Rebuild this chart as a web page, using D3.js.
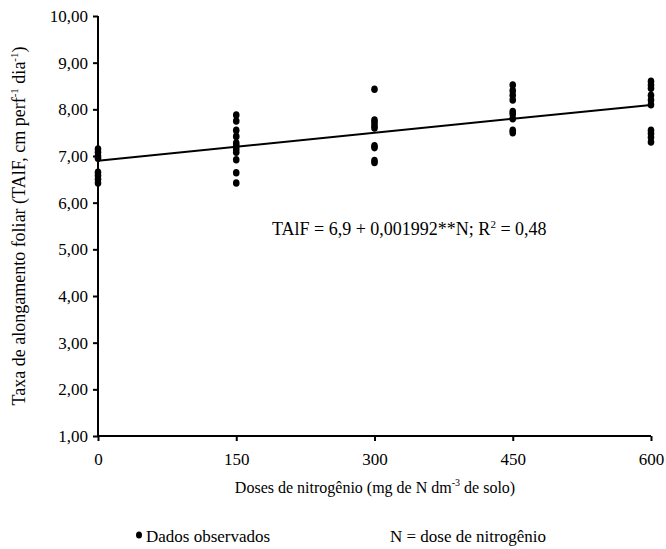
<!DOCTYPE html>
<html>
<head>
<meta charset="utf-8">
<script src="https://cdn.jsdelivr.net/npm/d3@7"></script>
<style>
  body { margin: 0; background: #fff; }
  svg text { font-family: "Liberation Serif", "Times New Roman", "DejaVu Serif", serif; fill: #000; }
</style>
</head>
<body>
<svg id="chart" width="666" height="549"></svg>
<script>
const doses = [0, 150, 300, 450, 600];
const obs0 = [7.15, 7.08, 7.0, 6.95, 6.65, 6.58, 6.5, 6.42];
const obs150 = [7.88, 7.75, 7.55, 7.42, 7.28, 7.22, 7.15, 7.08, 6.92, 6.64, 6.42];
const obs300 = [8.43, 7.77, 7.72, 7.65, 7.6, 7.22, 7.18, 6.9, 6.86];
const obs450 = [8.52, 8.4, 8.3, 8.2, 7.95, 7.9, 7.8, 7.55, 7.5];
const obs600 = [8.6, 8.52, 8.45, 8.3, 8.2, 8.1, 7.55, 7.48, 7.4, 7.3];
const yTicks = [1, 2, 3, 4, 5, 6, 7, 8, 9, 10];
// regression TAlF = 6,9 + 0,001992*N
const intercept = 6.9, slope = 0.001992;

const svg = d3.select("#chart");
const x = d3.scaleLinear().domain([0, 600]).range([98, 651]);
const y = d3.scaleLinear().domain([1, 10]).range([436, 16]);

const fmt = v => v.toFixed(2).replace(".", ",");

// axes
const yAxis = svg.append("g").attr("transform", "translate(98,0)")
    .call(d3.axisLeft(y).tickValues(yTicks).tickFormat(fmt).tickSize(5).tickPadding(5));
const xAxis = svg.append("g").attr("transform", "translate(0,436)")
    .call(d3.axisBottom(x).tickValues(doses).tickSize(5).tickPadding(12));
[yAxis, xAxis].forEach(g => {
    g.attr("font-family", null);
    g.select(".domain").attr("stroke", "#000").attr("stroke-width", 2);
    g.selectAll(".tick line").attr("stroke", "#000").attr("stroke-width", 2);
    g.selectAll(".tick text").style("font-size", "17px").attr("fill", "#000");
});
yAxis.select(".domain").attr("d", "M0," + y(1) + "V" + y(10));
xAxis.select(".domain").attr("d", "M" + x(0) + ",0H" + x(600));

// regression line
svg.append("line")
    .attr("x1", x(0)).attr("y1", y(intercept))
    .attr("x2", x(600)).attr("y2", y(intercept + slope * 600))
    .attr("stroke", "#000").attr("stroke-width", 2);

// observed points
const groups = [obs0, obs150, obs300, obs450, obs600];
const points = [];
groups.forEach((vals, i) => vals.forEach(v => points.push({ n: doses[i], v: v })));
svg.append("g").selectAll("ellipse").data(points).enter().append("ellipse")
    .attr("cx", d => x(d.n)).attr("cy", d => y(d.v))
    .attr("rx", 3.3).attr("ry", 3.8).attr("fill", "#000");

// equation
const eq = svg.append("text").attr("x", 272).attr("y", 235).style("font-size", "18px");
eq.append("tspan").text("TAlF = 6,9 + 0,001992**N; R");
eq.append("tspan").attr("dy", -7).style("font-size", "11px").text("2");
eq.append("tspan").attr("dy", 7).text(" = 0,48");

// y title
const yt = svg.append("text")
    .attr("transform", "translate(25,226) rotate(-90)")
    .attr("text-anchor", "middle").style("font-size", "18px");
yt.append("tspan").text("Taxa de alongamento foliar (TAlF, cm perf");
yt.append("tspan").attr("dy", -7).style("font-size", "11px").text("-1");
yt.append("tspan").attr("dy", 7).text(" dia");
yt.append("tspan").attr("dy", -7).style("font-size", "11px").text("-1");
yt.append("tspan").attr("dy", 7).text(")");

// x title
const xt = svg.append("text").attr("x", 375).attr("y", 493)
    .attr("text-anchor", "middle").style("font-size", "16px");
xt.append("tspan").text("Doses de nitrogênio (mg de N dm");
xt.append("tspan").attr("dy", -7).style("font-size", "10px").text("-3");
xt.append("tspan").attr("dy", 7).text(" de solo)");

// legend
svg.append("ellipse").attr("cx", 139).attr("cy", 535).attr("rx", 3).attr("ry", 3.5).attr("fill", "#000");
svg.append("text").attr("x", 146).attr("y", 542).style("font-size", "17px").text("Dados observados");
svg.append("text").attr("x", 390).attr("y", 542).style("font-size", "17px").text("N = dose de nitrogênio");
</script>
</body>
</html>
